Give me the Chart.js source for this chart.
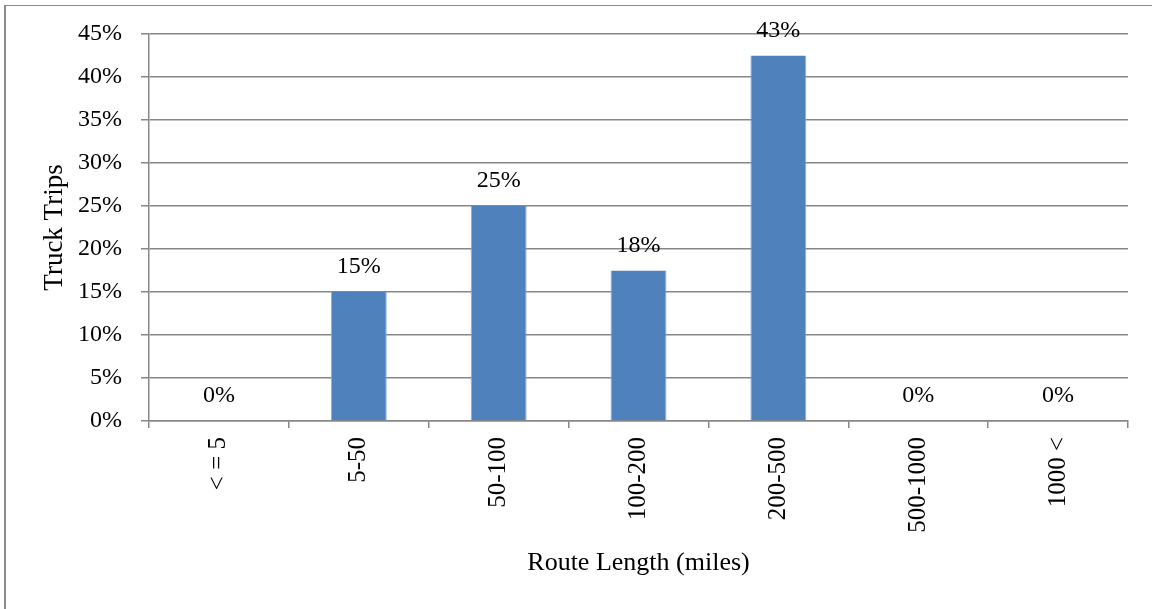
<!DOCTYPE html>
<html>
<head>
<meta charset="utf-8">
<title>Truck Trips by Route Length</title>
<script src="https://cdn.jsdelivr.net/npm/chart.js@4.4.1/dist/chart.umd.min.js"></script>
<style>
  html, body { margin: 0; padding: 0; background: #fff; }
  #frame {
    position: absolute; left: 4px; top: 5px; right: 0; bottom: 0;
    border-top: 1px solid #8a8a8a; border-left: 2px solid #8a8a8a;
  }
  #wrap { position: absolute; left: 0; top: 0; width: 1152px; height: 609px; }
</style>
</head>
<body>
<div id="frame"></div>
<div id="wrap"><canvas id="chart" width="1152" height="609"></canvas></div>
<script>
// Route length bins (miles)
const categories = ['< = 5', '5-50', '50-100', '100-200', '200-500', '500-1000', '1000 <'];
// Share of truck trips per bin, in percent
const tripShare = [0, 15, 25, 17.5, 42.5, 0, 0];
// Y-axis range and step, in percent
const yTicks = { min: 0, max: 45, step: 5 };

const serif = 'Liberation Serif, Times New Roman, serif';
const axisGray = '#878787';

// Writes each bar's rounded percentage centred above it
const valueLabels = {
  id: 'valueLabels',
  afterDatasetsDraw(chart) {
    const ctx = chart.ctx;
    const meta = chart.getDatasetMeta(0);
    ctx.save();
    ctx.font = '24px ' + serif;
    ctx.fillStyle = '#000';
    ctx.textAlign = 'center';
    ctx.textBaseline = 'middle';
    meta.data.forEach((bar, i) => {
      const v = chart.data.datasets[0].data[i];
      ctx.fillText(Math.round(v) + '%', bar.x, bar.y - 25);
    });
    ctx.restore();
  }
};

new Chart(document.getElementById('chart'), {
  type: 'bar',
  data: {
    labels: categories,
    datasets: [{
      data: tripShare,
      backgroundColor: '#4F81BD',
      borderColor: '#8EAEDB',
      borderWidth: { left: 1, right: 1, top: 0, bottom: 0 },
      barPercentage: 0.4,
      categoryPercentage: 1.0
    }]
  },
  options: {
    responsive: false,
    animation: false,
    devicePixelRatio: 1,
    layout: { padding: { left: 5, top: 34, right: 24, bottom: 0 } },
    plugins: {
      legend: { display: false },
      tooltip: { enabled: false }
    },
    scales: {
      x: {
        grid: {
          offset: true,
          drawOnChartArea: false,
          drawTicks: true,
          tickLength: 7,
          color: axisGray,
          lineWidth: 1.5
        },
        border: { color: axisGray, width: 1.5 },
        ticks: {
          font: { family: serif, size: 25 },
          color: '#000',
          minRotation: 90,
          maxRotation: 90,
          padding: 9,
          autoSkip: false
        },
        title: {
          display: true,
          text: 'Route Length (miles)',
          font: { family: serif, size: 26 },
          color: '#000',
          padding: { top: 0, bottom: 30 }
        },
        afterFit(scale) { scale.height = 188; }
      },
      y: {
        min: yTicks.min,
        max: yTicks.max,
        grid: {
          color: axisGray,
          lineWidth: 1.5,
          tickLength: 8
        },
        border: { color: axisGray, width: 1.5 },
        ticks: {
          stepSize: yTicks.step,
          font: { family: serif, size: 24 },
          color: '#000',
          padding: 19,
          callback: v => v + '%'
        },
        title: {
          display: true,
          text: 'Truck Trips',
          font: { family: serif, size: 27 },
          color: '#000',
          padding: { top: 34, bottom: 0 }
        },
        afterFit(scale) { scale.width = 144; }
      }
    }
  },
  plugins: [valueLabels]
});
</script>
</body>
</html>
